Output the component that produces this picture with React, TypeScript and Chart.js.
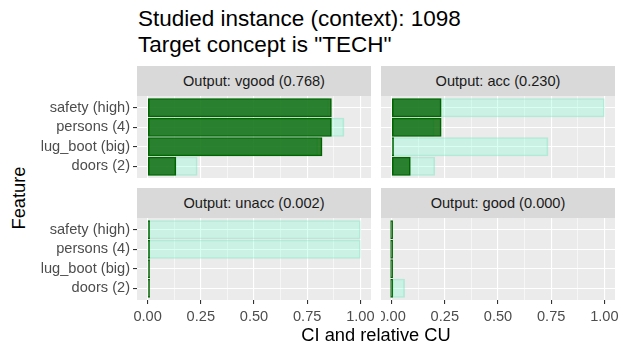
import React, { useEffect, useRef } from "react";
import { Chart, registerables } from "chart.js";
Chart.register(...registerables);

const features = ["safety (high)", "persons (4)", "lug_boot (big)", "doors (2)"];
const outputNames = ["vgood", "acc", "unacc", "good"];
const outputValues = [0.768, 0.23, 0.002, 0.0];

const ciVgood = [0.864, 0.864, 0.82, 0.133];
const cuVgood = [0.85, 0.923, 0.8, 0.233];
const ciAcc = [0.233, 0.233, 0.004, 0.088];
const cuAcc = [1.0, 0.2, 0.735, 0.203];
const ciUnacc = [0.002, 0.002, 0.002, 0.002];
const cuUnacc = [1.0, 1.0, 0.0, 0.0];
const ciGood = [0.0, 0.0, 0.0, 0.0];
const cuGood = [0.0, 0.0, 0.0, 0.061];

const xTicks = [0, 0.125, 0.25, 0.375, 0.5, 0.625, 0.75, 0.875, 1];

const FONT = '"Liberation Sans", Arial, Helvetica, sans-serif';

const isMajor = (v: number) => Math.abs(v * 4 - Math.round(v * 4)) < 1e-6;

const bgPlugin = {
  id: "panelBg",
  beforeDraw(chart: any) {
    const { ctx, chartArea: a } = chart;
    ctx.save();
    ctx.fillStyle = "#EBEBEB";
    ctx.fillRect(a.left, a.top, a.right - a.left, a.bottom - a.top);
    ctx.restore();
  },
};

type PanelProps = {
  ci: number[];
  cu: number[];
  showY: boolean;
  showX: boolean;
  left: number;
  top: number;
  width: number;
  height: number;
  yAxisW: number;
  xAxisH: number;
  padRight: number;
};

function Panel(p: PanelProps) {
  const ref = useRef<HTMLCanvasElement>(null);
  useEffect(() => {
    const n = features.length;
    const pos = features.map((_, i) => n - i);
    const chart = new Chart(ref.current as HTMLCanvasElement, {
      type: "bar",
      data: {
        datasets: [
          {
            label: "CI",
            data: p.ci.map((v, i) => ({ x: v, y: pos[i] })),
            backgroundColor: "rgba(0,100,0,0.8)",
            borderColor: "#006400",
            borderWidth: 1,
            minBarLength: 2,
            grouped: false,
            barThickness: 18.5,
            borderSkipped: false,
          } as any,
          {
            label: "CU",
            data: p.cu.map((v, i) => ({ x: v, y: pos[i] })),
            backgroundColor: "rgba(127,255,212,0.3)",
            borderColor: "rgba(110,225,185,0.4)",
            borderWidth: 1,
            grouped: false,
            barThickness: 18.5,
            borderSkipped: false,
          } as any,
        ],
      },
      options: {
        indexAxis: "y",
        responsive: false,
        maintainAspectRatio: false,
        animation: false,
        layout: { padding: { left: 0, right: p.padRight, top: 0, bottom: 0 } },
        plugins: {
          legend: { display: false },
          tooltip: { enabled: false },
        },
        scales: {
          x: {
            type: "linear",
            min: -0.05,
            max: 1.05,
            offset: false,
            afterBuildTicks: (s: any) => {
              s.ticks = xTicks.map((v) => ({ value: v }));
            },
            afterFit: (s: any) => {
              s.height = p.xAxisH;
              s.paddingLeft = 0;
              s.paddingRight = 0;
            },
            border: { display: false },
            grid: {
              offset: false,
              color: "#FFFFFF",
              lineWidth: (c: any) => (c.tick && isMajor(c.tick.value) ? 1.1 : 0.55),
              drawTicks: p.showX,
              tickLength: 4,
              tickWidth: 1.1,
              tickColor: (c: any) =>
                c.tick && isMajor(c.tick.value) ? "#333333" : "rgba(0,0,0,0)",
            },
            ticks: {
              display: p.showX,
              autoSkip: false,
              maxRotation: 0,
              padding: 4,
              color: "#4D4D4D",
              font: { size: 14.6, family: FONT },
              callback: (v: any) => (isMajor(Number(v)) ? Number(v).toFixed(2) : ""),
            },
          },
          y: {
            type: "linear",
            min: 0.4,
            max: n + 0.6,
            offset: false,
            afterBuildTicks: (s: any) => {
              s.ticks = pos.map((v) => ({ value: v }));
            },
            afterFit: (s: any) => {
              s.width = p.yAxisW;
              s.paddingTop = 0;
              s.paddingBottom = 0;
            },
            border: { display: false },
            grid: {
              offset: false,
              color: "#FFFFFF",
              lineWidth: 1.1,
              drawTicks: p.showY,
              tickLength: 4,
              tickWidth: 1.1,
              tickColor: "#333333",
            },
            ticks: {
              display: p.showY,
              autoSkip: false,
              padding: 3,
              color: "#4D4D4D",
              font: { size: 14.6, family: FONT },
              callback: (v: any) => features[n - Number(v)] ?? "",
            },
          },
        },
      } as any,
      plugins: [bgPlugin],
    });
    return () => chart.destroy();
  }, []);
  return (
    <canvas
      ref={ref}
      width={p.width}
      height={p.height}
      style={{ position: "absolute", left: p.left, top: p.top, width: p.width, height: p.height, display: "block" }}
    />
  );
}

function Strip({ left, top, text }: { left: number; top: number; text: string }) {
  return (
    <div
      style={{
        position: "absolute",
        left,
        top,
        width: 234,
        height: 30,
        background: "#D9D9D9",
        color: "#1A1A1A",
        fontSize: 14.6,
        display: "flex",
        alignItems: "center",
        justifyContent: "center",
        whiteSpace: "nowrap",
      }}
    >
      {text}
    </div>
  );
}

export default function App() {
  const stripText = (i: number) => `Output: ${outputNames[i]} (${outputValues[i].toFixed(3)})`;
  return (
    <div
      style={{
        position: "absolute",
        left: 0,
        top: 0,
        width: 623,
        height: 356,
        background: "#FFFFFF",
        fontFamily: FONT,
        overflow: "hidden",
      }}
    >
      <div
        style={{
          position: "absolute",
          left: 138,
          top: 6,
          fontSize: 22.5,
          lineHeight: "26px",
          color: "#000000",
          whiteSpace: "nowrap",
        }}
      >
        <div>Studied instance (context): 1098</div>
        <div>Target concept is "TECH"</div>
      </div>

      <Strip left={137} top={66} text={stripText(0)} />
      <Strip left={381} top={66} text={stripText(1)} />
      <Strip left={137} top={188} text={stripText(2)} />
      <Strip left={381} top={188} text={stripText(3)} />

      <Panel ci={ciVgood} cu={cuVgood} showY={true} showX={false} left={30} top={96} width={348} height={82} yAxisW={107} xAxisH={0} padRight={7} />
      <Panel ci={ciAcc} cu={cuAcc} showY={false} showX={false} left={381} top={96} width={242} height={82} yAxisW={0} xAxisH={0} padRight={8} />
      <Panel ci={ciUnacc} cu={cuUnacc} showY={true} showX={true} left={30} top={218} width={348} height={108} yAxisW={107} xAxisH={26} padRight={7} />
      <Panel ci={ciGood} cu={cuGood} showY={false} showX={true} left={381} top={218} width={242} height={108} yAxisW={0} xAxisH={26} padRight={8} />

      <div
        style={{
          position: "absolute",
          left: 137,
          width: 478,
          top: 324,
          textAlign: "center",
          fontSize: 18.3,
          lineHeight: "22px",
          color: "#000000",
          whiteSpace: "nowrap",
        }}
      >
        CI and relative CU
      </div>
      <div
        style={{
          position: "absolute",
          left: 19,
          top: 198,
          transform: "translate(-50%, -50%) rotate(-90deg)",
          fontSize: 18.3,
          lineHeight: "22px",
          color: "#000000",
          whiteSpace: "nowrap",
        }}
      >
        Feature
      </div>
    </div>
  );
}
